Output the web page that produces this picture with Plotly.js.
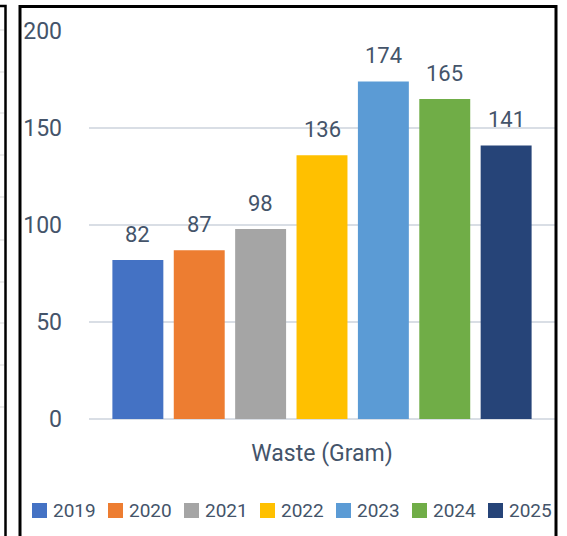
<!DOCTYPE html>
<html>
<head>
<meta charset="utf-8">
<script src="https://cdn.plot.ly/plotly-3.0.1.min.js"></script>
<style>html,body{margin:0;padding:0;background:#fff;}#chart{width:567px;height:536px;}</style>
</head>
<body>
<div id="chart"></div>
<script>
// ---- data ----
const category = ["Waste (Gram)"];
const years = ["2019", "2020", "2021", "2022", "2023", "2024", "2025"];
const values = [82, 87, 98, 136, 174, 165, 141];
const colors = ["#4472C4", "#ED7D31", "#A5A5A5", "#FFC000", "#5B9BD5", "#70AD47", "#264478"];
const yTicks = [0, 50, 100, 150, 200];

// ---- layout constants ----
const W = 567, H = 536;
const M = {l: 89, r: 12, t: 31, b: 117, autoexpand: false};
const PW = W - M.l - M.r, PH = H - M.t - M.b;
const px = v => (v - M.l) / PW;          // pixel x -> paper x
const py = v => (H - M.b - v) / PH;       // pixel y -> paper y
const bargap = 0.078, bargroupgap = 0.17;
const txt = "#44546A";
const font = "Roboto, 'Noto Sans', sans-serif";

const traces = years.map((yr, i) => ({
  type: "bar",
  name: yr,
  x: category,
  y: [values[i]],
  marker: {color: colors[i], line: {width: 0}},
  hoverinfo: "y"
}));

// data labels above each bar, positioned from the group geometry
const slot = (1 - bargap) / years.length;
const annotations = values.map((v, i) => ({
  x: -(1 - bargap) / 2 + slot * (i + 0.5),
  y: v,
  xref: "x", yref: "y",
  text: String(v),
  showarrow: false,
  yanchor: "bottom",
  yshift: 11,
  font: {family: font, size: 22, color: txt}
}));

const shapes = [];

// legend (row of swatches + labels below the chart)
const legLeft = 32, legPitch = 76, sw = 15, legY = 510.5;
years.forEach((yr, i) => {
  const x0 = legLeft + legPitch * i;
  shapes.push({type: "rect", xref: "paper", yref: "paper",
    x0: px(x0), x1: px(x0 + sw), y0: py(legY + sw / 2), y1: py(legY - sw / 2),
    line: {width: 0}, fillcolor: colors[i]});
  annotations.push({xref: "paper", yref: "paper",
    x: px(x0 + sw + 4), y: py(legY), xanchor: "left", yanchor: "middle",
    text: yr, showarrow: false,
    font: {family: font, size: 19, color: txt}});
});

// frames (this chart + edge of neighbouring chart)
const neighbourGrid = [30, 72, 113, 155, 197, 240, 282, 323, 365, 407];
neighbourGrid.forEach(g => shapes.push({
  type: "line", xref: "paper", yref: "paper",
  x0: px(-5), x1: px(4), y0: py(g), y1: py(g),
  line: {color: "#D9D9D9", width: 1}
}));
shapes.push({type: "rect", xref: "paper", yref: "paper",
  x0: px(-30), x1: px(5.5), y0: py(560), y1: py(6),
  line: {color: "#000", width: 2.5}, fillcolor: "rgba(0,0,0,0)"});
shapes.push({type: "rect", xref: "paper", yref: "paper",
  x0: px(20), x1: px(556), y0: py(560), y1: py(6.5),
  line: {color: "#000", width: 3}, fillcolor: "rgba(0,0,0,0)"});

const layout = {
  width: W, height: H,
  margin: M,
  paper_bgcolor: "#fff", plot_bgcolor: "#fff",
  barmode: "group",
  bargap: bargap, bargroupgap: bargroupgap,
  showlegend: false,
  xaxis: {
    type: "category",
    showgrid: false, zeroline: false, showline: false,
    ticks: "", ticklabelstandoff: 18,
    tickfont: {family: font, size: 23, color: txt},
    fixedrange: true
  },
  yaxis: {
    range: [0, 200],
    tickvals: yTicks,
    ticktext: yTicks.map(String),
    showgrid: true, gridcolor: "#D9DEE5", gridwidth: 1.5,
    zeroline: true, zerolinecolor: "#D9DEE5", zerolinewidth: 1.5,
    showline: false, ticks: "", ticklabelstandoff: 26,
    tickfont: {family: font, size: 23, color: txt},
    fixedrange: true
  },
  annotations: annotations,
  shapes: shapes
};

Plotly.newPlot("chart", traces, layout, {displayModeBar: false, staticPlot: true});
</script>
</body>
</html>
